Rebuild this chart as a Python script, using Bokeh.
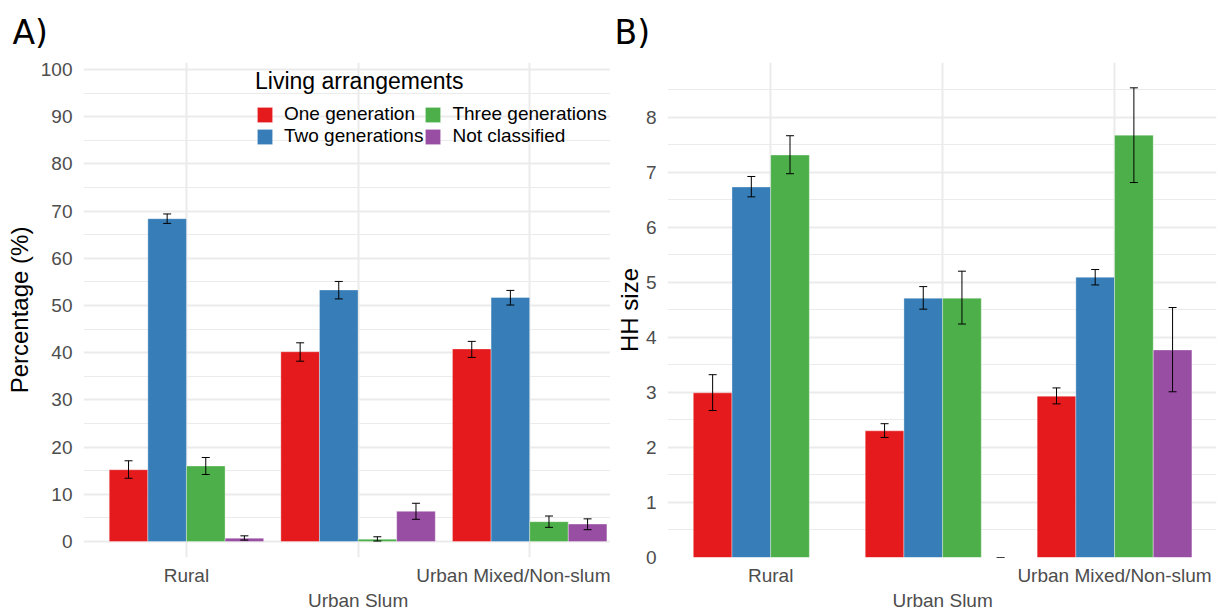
import math
from bokeh.plotting import figure
from bokeh.models import (FixedTicker, Range1d, Whisker, TeeHead,
                          Legend, LegendItem, ColumnDataSource)
from bokeh.layouts import row
from bokeh.embed import file_html
from bokeh.resources import INLINE

# ---------------- data ----------------
categories = ["Rural", "Urban Slum", "Urban Mixed/Non-slum"]
arrangements = ["One generation", "Two generations", "Three generations", "Not classified"]
colors = ["#E41A1C", "#377EB8", "#4DAF4A", "#984EA3"]

# Panel A: percentage of households (%)
pct_one = [15.2, 40.2, 40.8]
pct_one_lo = [13.4, 38.2, 39.0]
pct_one_hi = [17.1, 42.1, 42.4]
pct_two = [68.4, 53.3, 51.7]
pct_two_lo = [67.4, 51.4, 50.1]
pct_two_hi = [69.4, 55.1, 53.2]
pct_three = [16.0, 0.5, 4.2]
pct_three_lo = [14.2, 0.1, 3.0]
pct_three_hi = [17.8, 1.0, 5.4]
pct_nc = [0.7, 6.4, 3.7]
pct_nc_lo = [0.3, 4.7, 2.5]
pct_nc_hi = [1.2, 8.1, 4.8]

# Panel B: household size
hh_one = [2.99, 2.30, 2.93]
hh_one_lo = [2.67, 2.18, 2.79]
hh_one_hi = [3.32, 2.43, 3.08]
hh_two = [6.73, 4.71, 5.09]
hh_two_lo = [6.55, 4.51, 4.95]
hh_two_hi = [6.92, 4.92, 5.23]
hh_three = [7.31, 4.71, 7.67]
hh_three_lo = [6.97, 4.24, 6.81]
hh_three_hi = [7.66, 5.20, 8.53]
hh_nc = [float("nan"), 0.0, 3.77]
hh_nc_lo = [float("nan"), 0.0, 3.01]
hh_nc_hi = [float("nan"), 0.0, 4.54]

pct_ticks = [0, 10, 20, 30, 40, 50, 60, 70, 80, 90, 100]
pct_minor = [-5, 5, 15, 25, 35, 45, 55, 65, 75, 85, 95]
hh_ticks = [0, 1, 2, 3, 4, 5, 6, 7, 8]
hh_minor = [0.5, 1.5, 2.5, 3.5, 4.5, 5.5, 6.5, 7.5, 8.5]

FONT = "Liberation Sans"
TICK_COLOR = "#4D4D4D"
GRID = "#EBEBEB"
DODGE = 0.9
BAR_W = DODGE / len(arrangements)
HEIGHT = 613


def style_axis(ax, standoff):
    ax.axis_line_color = None
    ax.major_tick_line_color = None
    ax.minor_tick_line_color = None
    ax.major_tick_out = 0
    ax.major_tick_in = 0
    ax.minor_tick_out = 0
    ax.minor_tick_in = 0
    ax.major_label_text_font = FONT
    ax.major_label_text_font_size = "19px"
    ax.major_label_text_color = TICK_COLOR
    ax.major_label_standoff = standoff


def make_panel(tag, ylabel, series, y_range, ticks, minor, width, x_end,
               border_left, border_right, title_offset, ytick_standoff,
               ylabel_standoff):
    p = figure(width=width, height=HEIGHT, output_backend="svg",
               toolbar_location=None,
               x_range=Range1d(0.4, x_end), y_range=Range1d(*y_range),
               min_border_left=border_left, min_border_right=border_right,
               min_border_top=62, min_border_bottom=56)
    p.outline_line_color = None
    p.background_fill_color = "white"
    p.border_fill_color = "white"

    # panel tag
    p.title.text = tag
    p.title.align = "left"
    p.title.vertical_align = "middle"
    p.title.offset = title_offset
    p.title.standoff = 20
    p.title.text_font = "DejaVu Sans"
    p.title.text_font_style = "normal"
    p.title.text_font_size = "33px"
    p.title.text_color = "black"

    # x axis: middle category label dodged onto a second row
    ax1 = p.xaxis[0]
    ax1.ticker = FixedTicker(ticks=[1, 2, 3])
    ax1.major_label_overrides = {1: categories[0], 2: "\n" + categories[1],
                                 3: categories[2]}
    style_axis(ax1, 7)

    # y axis
    ay = p.yaxis[0]
    ay.ticker = FixedTicker(ticks=ticks, minor_ticks=minor)
    style_axis(ay, ytick_standoff)
    ay.axis_label = ylabel
    ay.axis_label_text_font = FONT
    ay.axis_label_text_font_size = "24px"
    ay.axis_label_text_font_style = "normal"
    ay.axis_label_text_color = "black"
    ay.axis_label_standoff = ylabel_standoff

    # grids
    p.xgrid.ticker = FixedTicker(ticks=[1, 2, 3])
    p.xgrid.grid_line_color = GRID
    p.xgrid.grid_line_width = 2
    p.ygrid.ticker = FixedTicker(ticks=ticks, minor_ticks=minor)
    p.ygrid.grid_line_color = GRID
    p.ygrid.grid_line_width = 2
    p.ygrid.minor_grid_line_color = GRID
    p.ygrid.minor_grid_line_width = 1.2

    renderers = []
    for k, (vals, lo, hi) in enumerate(series):
        offset = (k - (len(series) - 1) / 2) * BAR_W
        xs, tops, los, his = [], [], [], []
        for i, v in enumerate(vals):
            if math.isnan(v):
                continue
            xs.append(i + 1 + offset)
            tops.append(v)
            los.append(lo[i])
            his.append(hi[i])
        src = ColumnDataSource(dict(x=xs, top=tops, lower=los, upper=his))
        r = p.vbar(x="x", top="top", bottom=0, width=BAR_W, source=src,
                   fill_color=colors[k], line_color="white", line_alpha=0.35,
                   line_width=1)
        renderers.append(r)
        w = Whisker(source=src, base="x", lower="lower", upper="upper",
                    dimension="height", line_color="black", line_width=1,
                    level="overlay",
                    upper_head=TeeHead(size=8, line_color="black", line_width=1),
                    lower_head=TeeHead(size=8, line_color="black", line_width=1))
        p.add_layout(w)
    return p, renderers


pA, rendA = make_panel(
    "A)", "Percentage (%)",
    [(pct_one, pct_one_lo, pct_one_hi), (pct_two, pct_two_lo, pct_two_hi),
     (pct_three, pct_three_lo, pct_three_hi), (pct_nc, pct_nc_lo, pct_nc_hi)],
    (-3.39, 101.49), pct_ticks, pct_minor, width=610, x_end=3.471,
    border_left=83, border_right=0, title_offset=-71,
    ytick_standoff=11, ylabel_standoff=5)

legend = Legend(
    items=[LegendItem(label=name, renderers=[r]) for name, r in zip(arrangements, rendA)],
    location=(172, 410), orientation="vertical", nrows=2,
    title="Living arrangements", title_text_font=FONT,
    title_text_font_size="23px", title_text_font_style="normal",
    title_text_color="black", title_standoff=8,
    label_text_font=FONT, label_text_font_size="19px", label_text_color="black",
    glyph_width=19, glyph_height=19, label_standoff=10, label_width=138,
    label_height=19, spacing=0, padding=0, margin=0,
    background_fill_alpha=0, border_line_alpha=0)
pA.add_layout(legend)

pB, _ = make_panel(
    "B)", "HH size",
    [(hh_one, hh_one_lo, hh_one_hi), (hh_two, hh_two_lo, hh_two_hi),
     (hh_three, hh_three_lo, hh_three_hi), (hh_nc, hh_nc_lo, hh_nc_hi)],
    (0, 8.99), hh_ticks, hh_minor, width=607, x_end=3.593,
    border_left=57, border_right=1, title_offset=-53,
    ytick_standoff=11, ylabel_standoff=0)

layout = row(pA, pB)
open("out.html", "w").write(file_html(layout, INLINE))
